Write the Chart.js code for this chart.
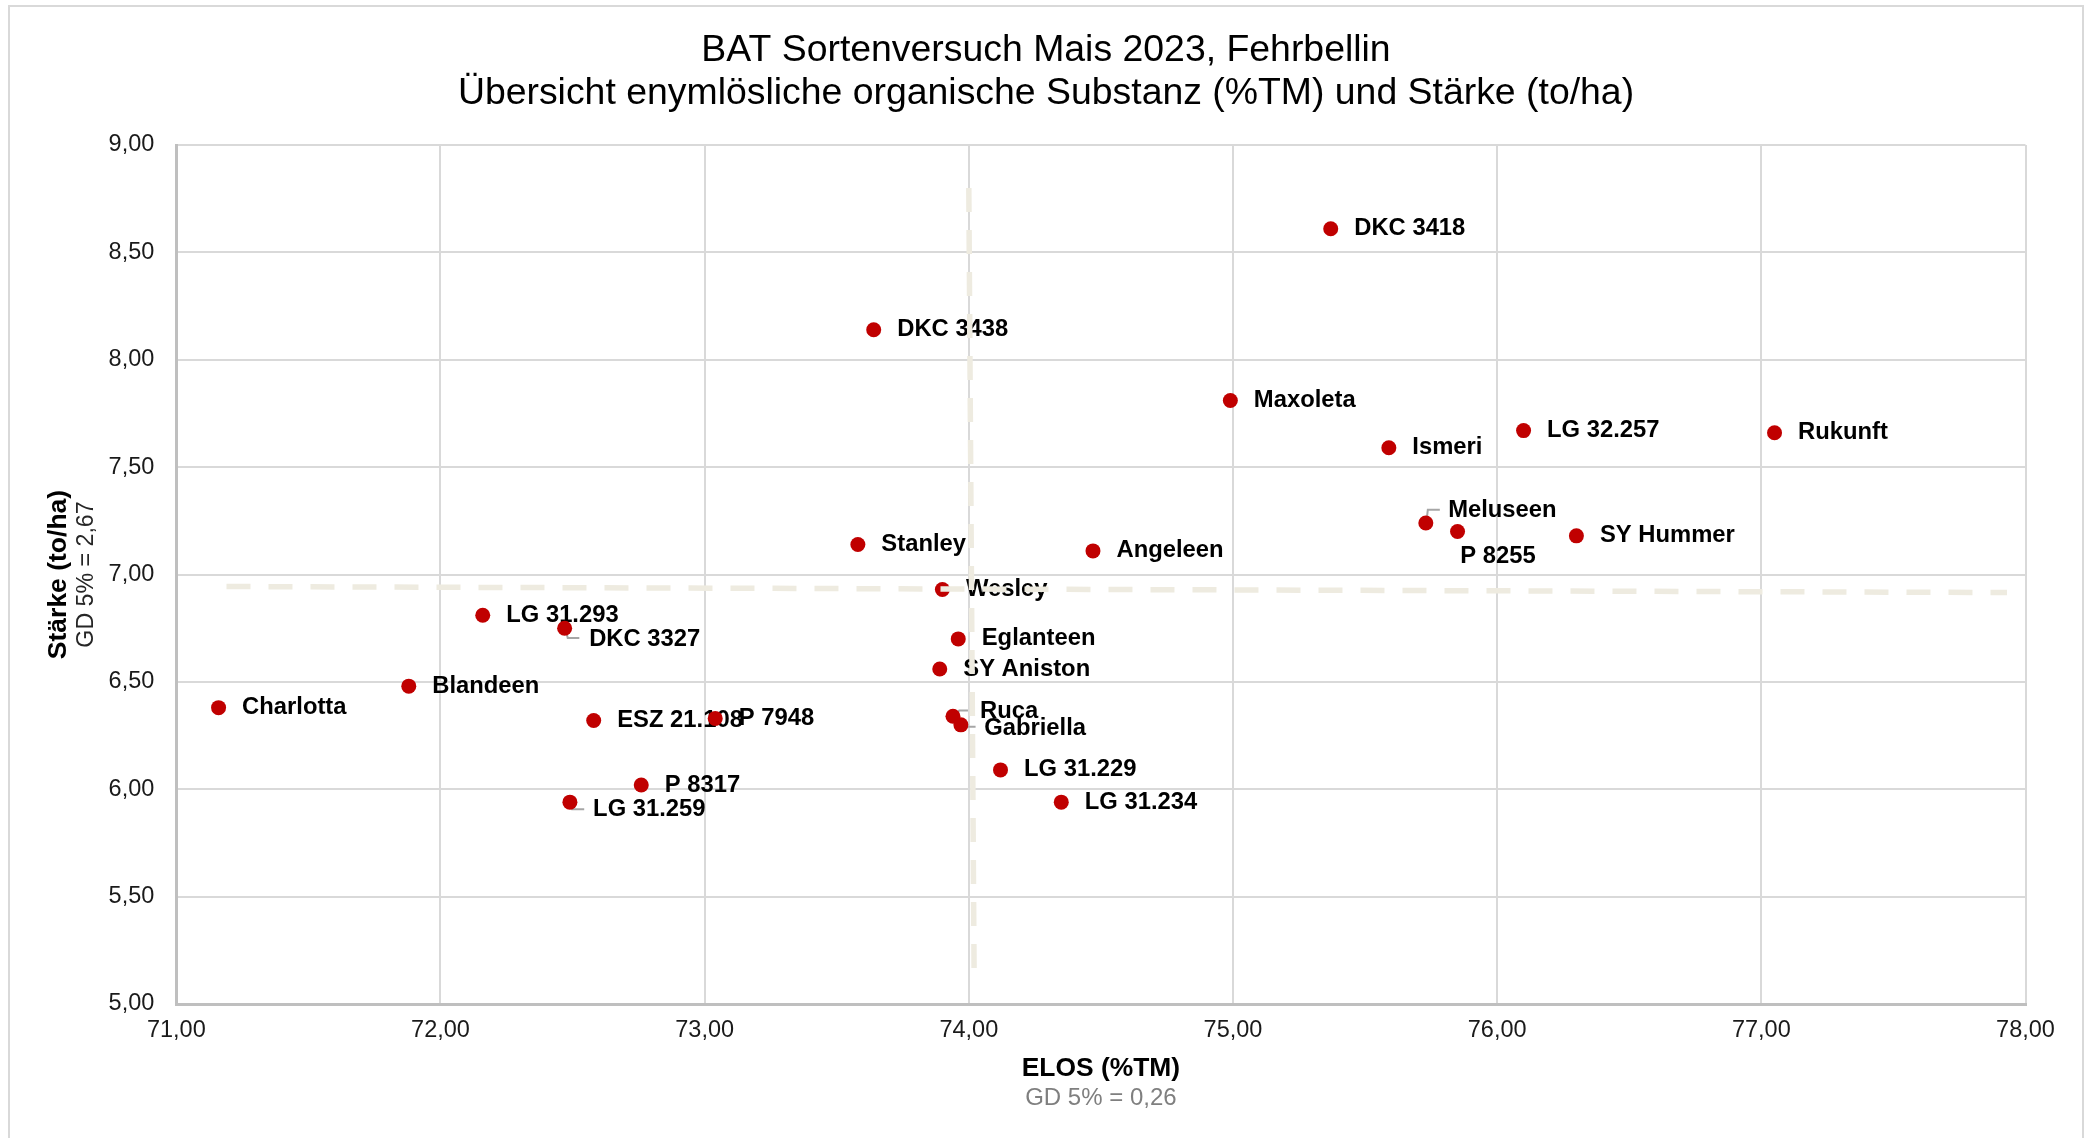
<!DOCTYPE html>
<html><head><meta charset="utf-8">
<script src="https://cdn.jsdelivr.net/npm/chart.js@4.4.1/dist/chart.umd.min.js"></script>
<style>
html,body{margin:0;padding:0;background:#fff;overflow:hidden;}
#wrap{position:absolute;left:0;top:0;width:2089px;height:1138px;overflow:hidden;}
#frame{position:absolute;left:8px;top:5px;width:2076px;height:1200px;border:2px solid #d9d9d9;box-sizing:border-box;pointer-events:none;}
canvas{position:absolute;left:0;top:0;}
</style></head><body>
<div id="wrap"><canvas id="c" width="2089" height="1138"></canvas><div id="frame"></div></div>
<script>
// ---- data ----
const sorten = ['DKC 3418','DKC 3438','Maxoleta','Ismeri','LG 32.257','Rukunft','Meluseen','P 8255','SY Hummer','Angeleen','Stanley','Wesley','Eglanteen','SY Aniston','Ruca','Gabriella','LG 31.229','LG 31.234','LG 31.293','DKC 3327','Blandeen','Charlotta','ESZ 21.108','P 7948','P 8317','LG 31.259'];
const elos = [75.37,73.64,74.99,75.59,76.10,77.05,75.73,75.85,76.30,74.47,73.58,73.90,73.96,73.89,73.94,73.97,74.12,74.35,72.16,72.47,71.88,71.16,72.58,73.04,72.76,72.49];
const staerke = [8.61,8.14,7.81,7.59,7.67,7.66,7.24,7.20,7.18,7.11,7.14,6.93,6.70,6.56,6.34,6.30,6.09,5.94,6.81,6.75,6.48,6.38,6.32,6.33,6.02,5.94];
const xTicks = [71,72,73,74,75,76,77,78];
const yTicks = [5,5.5,6,6.5,7,7.5,8,8.5,9];
const refVX = [74.00, 74.02], refVY = [8.80, 5.15];
const refHX = [71.19, 77.93], refHY = [6.944, 6.916];
const titleLines = ['BAT Sortenversuch Mais 2023, Fehrbellin','Übersicht enymlösliche organische Substanz (%TM) und Stärke (to/ha)'];
const xTitle = 'ELOS (%TM)', xSub = 'GD 5% = 0,26';
const yTitle = 'Stärke (to/ha)', ySub = 'GD 5% = 2,67';

// ---- label layout (positions only) ----
const FONT = '"Liberation Sans", Arial, sans-serif';
const labelLayout = {
  'Ruca': {dx:27, dy:-5, leader:[[1.7,-1],[6.3,-5.7],[15,-5.7]]},
  'Gabriella': {dx:23.3, dy:3.7, leader:[[0,-1.3],[4.7,2],[14.7,2]]},
  'Meluseen': {dx:22.3, dy:-12.7, leader:[[0.7,-2],[2,-13.3],[14,-13.3]]},
  'DKC 3327': {dx:24.5, dy:11, leader:[[1.3,2.4],[3.1,9.8],[14.7,9.8]]},
  'LG 31.259': {dx:23.2, dy:7.7, leader:[[0.9,2.4],[2.2,7.1],[14.3,7.1]]},
  'P 8255': {dx:2.7, dy:25}
};
const fmt = v => v.toFixed(2).replace('.', ',');

const labelPlugin = {
  id: 'labels',
  beforeDatasetsDraw(chart) {
    const ctx = chart.ctx;
    const meta = chart.getDatasetMeta(2);
    ctx.save();
    meta.data.forEach((pt, i) => {
      const name = sorten[i];
      const L = labelLayout[name] || {dx:23.5, dy:0};
      if (L.leader) {
        ctx.strokeStyle = '#a6a6a6'; ctx.lineWidth = 2;
        ctx.beginPath();
        L.leader.forEach((p, k) => { const X = pt.x + p[0], Y = pt.y + p[1]; k ? ctx.lineTo(X, Y) : ctx.moveTo(X, Y); });
        ctx.stroke();
      }
      ctx.fillStyle = '#000';
      ctx.font = 'bold 23.8px ' + FONT;
      ctx.textAlign = 'left'; ctx.textBaseline = 'middle';
      ctx.fillText(name, pt.x + L.dx, pt.y + L.dy);
    });
    ctx.restore();
  },
  afterDraw(chart) {
    const ctx = chart.ctx, a = chart.chartArea;
    ctx.save();
    ctx.fillStyle = '#000'; ctx.textAlign = 'center'; ctx.textBaseline = 'middle';
    ctx.font = '37.4px ' + FONT;
    ctx.fillText(titleLines[0], 1046, 50.8);
    ctx.fillText(titleLines[1], 1046, 93.3);
    const cx = (a.left + a.right) / 2, cy = (a.top + a.bottom) / 2;
    ctx.font = 'bold 26.4px ' + FONT;
    ctx.fillText(xTitle, cx, 1068.5);
    ctx.fillStyle = '#7f7f7f'; ctx.font = '24px ' + FONT;
    ctx.fillText(xSub, cx, 1098);
    ctx.translate(58.6, cy); ctx.rotate(-Math.PI/2);
    ctx.fillStyle = '#000'; ctx.font = 'bold 26.5px ' + FONT;
    ctx.fillText(yTitle, 0, 0);
    ctx.restore();
    ctx.save();
    ctx.translate(86.6, cy); ctx.rotate(-Math.PI/2);
    ctx.fillStyle = '#262626'; ctx.textAlign = 'center'; ctx.textBaseline = 'middle';
    ctx.font = '23.2px ' + FONT;
    ctx.fillText(ySub, 0, 0);
    ctx.restore();
  }
};

const refStyle = {showLine:true, borderColor:'rgb(238,235,224)', borderWidth:5.5, borderDash:[24,18], pointRadius:0, fill:false};

new Chart(document.getElementById('c'), {
  type: 'scatter',
  data: {
    datasets: [
      Object.assign({data: refVX.map((x,i)=>({x, y: refVY[i]}))}, refStyle),
      Object.assign({data: refHX.map((x,i)=>({x, y: refHY[i]}))}, refStyle),
      {data: elos.map((x,i)=>({x, y: staerke[i]})), pointRadius:7.5, pointBackgroundColor:'#c00000', pointBorderWidth:0, borderWidth:0}
    ]
  },
  options: {
    responsive:false, animation:false, devicePixelRatio:1,
    layout:{padding:{top:145, right:63.5, left:0, bottom:0}},
    plugins:{legend:{display:false}, tooltip:{enabled:false}, title:{display:false}},
    scales:{
      x:{type:'linear', min:71, max:78,
        afterBuildTicks: s => { s.ticks = xTicks.map(v=>({value:v})); },
        afterFit: s => { s.height = 134; },
        ticks:{callback: v => fmt(v), color:'#1a1a1a', font:{family:FONT, size:23.5}, padding:12, maxRotation:0},
        grid:{color:'#d9d9d9', lineWidth:2, drawTicks:false},
        border:{color:'#bfbfbf', width:3}
      },
      y:{type:'linear', min:5, max:9,
        afterBuildTicks: s => { s.ticks = yTicks.map(v=>({value:v})); },
        afterFit: s => { s.width = 176.3; },
        ticks:{callback: v => fmt(v), color:'#1a1a1a', font:{family:FONT, size:23.5}, padding:22},
        grid:{color:'#d9d9d9', lineWidth:2, drawTicks:false},
        border:{color:'#bfbfbf', width:3}
      }
    }
  },
  plugins:[labelPlugin]
});
</script>
</body></html>
